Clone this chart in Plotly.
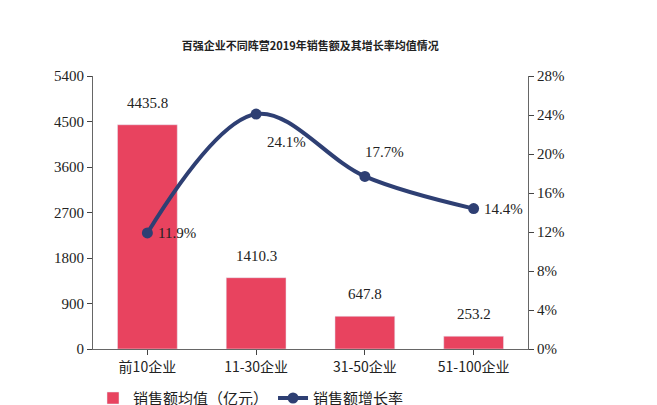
import plotly.graph_objects as go

categories = ["前10企业", "11-30企业", "31-50企业", "51-100企业"]
sales = [4435.8, 1410.3, 647.8, 253.2]
growth = [11.9, 24.1, 17.7, 14.4]
growth_shift = [(30, 0), (30, -28), (20, 24), (30, 0)]

fig = go.Figure()
fig.add_trace(go.Bar(
    x=categories, y=sales, name="销售额均值（亿元）",
    marker_color="#E8435F", width=0.55,
))
fig.add_trace(go.Scatter(
    x=categories, y=growth, name="销售额增长率", yaxis="y2",
    mode="lines+markers", line=dict(color="#2E3F73", width=4, shape="spline"),
    marker=dict(size=11, color="#2E3F73"), cliponaxis=False,
))
ann = []
for c, v in zip(categories, sales):
    ann.append(dict(x=c, y=v, text=f"{v:.1f}", showarrow=False, yshift=22,
                    font=dict(family="Liberation Serif", size=15, color="#222")))
for c, v, (dx, dy) in zip(categories, growth, growth_shift):
    ann.append(dict(x=c, y=v, yref="y2", text=f"{v:.1f}%", showarrow=False,
                    xshift=dx, yshift=dy,
                    font=dict(family="Liberation Serif", size=15, color="#222")))
fig.update_layout(
    width=657, height=405,
    margin=dict(l=85, r=137, t=68, b=64, autoexpand=False),
    paper_bgcolor="white", plot_bgcolor="white",
    annotations=ann,
    title=dict(text="<b>百强企业不同阵营2019年销售额及其增长率均值情况</b>", x=0.46, y=0.915,
               xanchor="center", font=dict(family="Noto Sans CJK SC", size=11, color="#222")),
    font=dict(family="Liberation Serif", size=14, color="#222"),
    xaxis=dict(showline=True, linecolor="#666", tickfont=dict(family="Noto Sans CJK SC", size=14),
               ticks="outside", ticklen=5),
    yaxis=dict(range=[0, 5400], dtick=900, showgrid=False, showline=True, linecolor="#666",
               ticks="outside", ticklen=5, tickfont=dict(size=15)),
    yaxis2=dict(range=[0, 28], dtick=4, ticksuffix="%", overlaying="y", side="right",
                showgrid=False, showline=True, linecolor="#666", ticks="outside", ticklen=5,
                tickfont=dict(size=15)),
    legend=dict(orientation="h", x=0.0, y=-0.12, xanchor="left", yanchor="top",
                font=dict(family="Noto Sans CJK SC", size=15)),
    showlegend=True,
)
fig.write_html("out.html")
